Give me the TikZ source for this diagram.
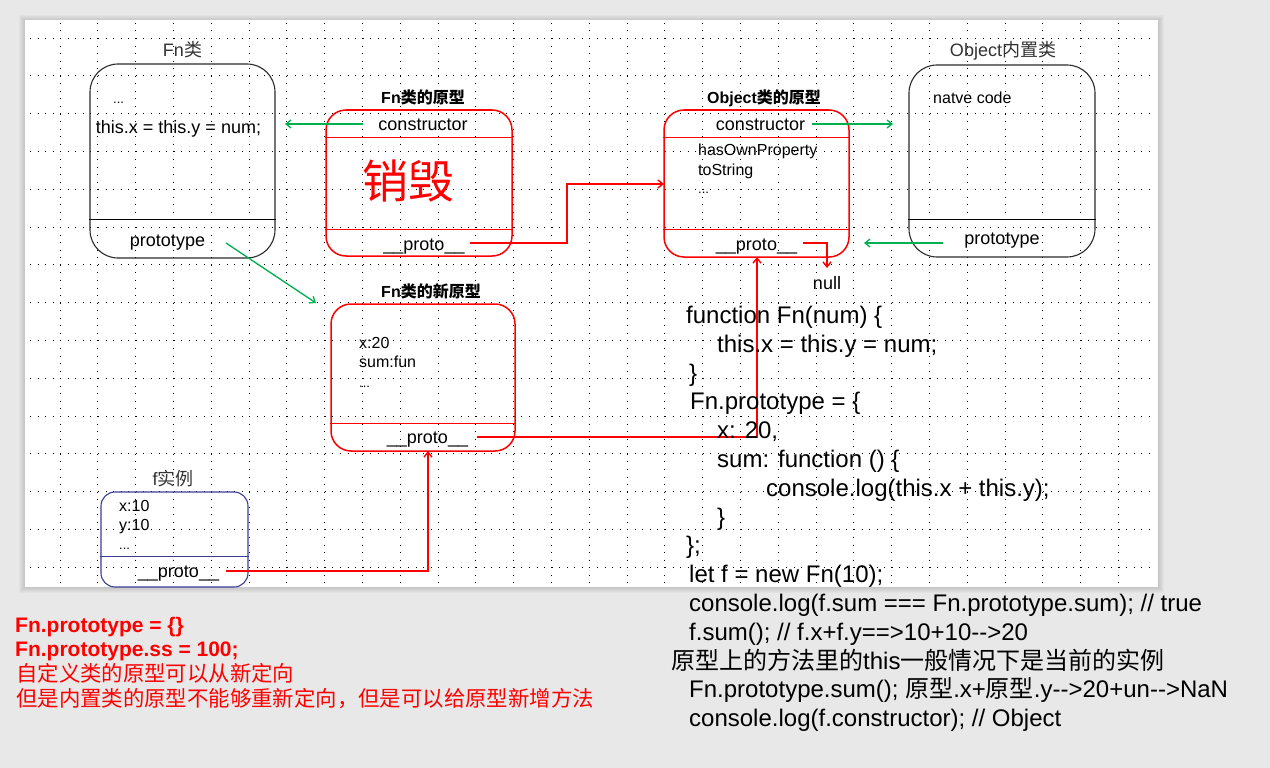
\documentclass[tikz,border=0pt]{standalone}
\usepackage{fontspec}
\setmainfont{Liberation Sans}[Ligatures=TeXOff]
\newfontfamily\cjk{Noto Sans CJK SC}
\usetikzlibrary{arrows.meta}
\definecolor{bggray}{HTML}{E8E8E8}
\definecolor{gline}{HTML}{00B050}
\definecolor{navyline}{HTML}{3C3C96}
\definecolor{darktxt}{HTML}{333333}
\definecolor{boxline}{HTML}{2B2B2B}
\newcommand\zh[1]{{\cjk #1}}
\newcommand\fsz[2]{\fontsize{#1}{#2}\selectfont}
\begin{document}
\begin{tikzpicture}[x=1pt,y=-1pt,
  lbl/.style={inner sep=0pt, anchor=base, font=\fsz{18}{21.6}},
  lblw/.style={inner sep=0pt, anchor=base west, font=\fsz{16}{19.2}},
  dots/.style={inner sep=0pt, anchor=base west, font=\fsz{13}{15}},
  ttl/.style={inner sep=0pt, anchor=base, font=\fsz{18}{21.6}, text=darktxt},
  bttl/.style={inner sep=0pt, anchor=base, font=\fsz{16}{19.2}\bfseries},
  codeline/.style={inner sep=0pt, anchor=base west, font=\fsz{24}{28.8}},
  note/.style={inner sep=0pt, anchor=base west, font=\fsz{21.4}{24.6}, text=red},
  blackbox/.style={draw=boxline, line width=1.1pt, rounded corners=28pt, inner sep=0pt},
  redbox/.style={draw=red, line width=1.5pt, rounded corners=20pt, inner sep=0pt},
  bluebox/.style={draw=navyline, line width=1.1pt, rounded corners=14pt, inner sep=0pt},
  divblack/.style={draw=black, line width=1pt},
  divred/.style={draw=red, line width=1pt},
  divblue/.style={draw=navyline, line width=1pt},
  garrow/.style={draw=gline, line width=1.3pt, -{Straight Barb[length=5pt,width=8pt]}},
  rarrow/.style={draw=red, line width=1.4pt, -{Straight Barb[length=5pt,width=8pt]}},
  griddot/.style={draw=black, line width=0.9pt, dash pattern=on 0.9pt off 6.66pt}
]
\useasboundingbox (0,0) rectangle (1270,768);
% background and canvas
\fill[bggray] (0,0) rectangle (1270,768);
\foreach \k in {1,...,6} \fill[black, opacity=0.025] ({25-\k},{20-\k+1}) rectangle ({1158+\k},{587+\k});
\fill[white] (25,20) rectangle (1158,587);
% dotted grid
\foreach \i in {0,...,28} \draw[griddot] ({60+37.8*\i},22.9) -- ({60+37.8*\i},585);
\foreach \j in {0,...,14} \draw[griddot] (30,{38+37.8*\j}) -- (1152,{38+37.8*\j});

% ---- Fn class box
\node[blackbox, minimum width=185pt, minimum height=194pt] (fnc) at (182.5,161) {};
\node[ttl] (fnct) at (182.5,57) {Fn\zh{类}};
\node[dots] (fncdots) at (113,103) {...};
\node[lbl] (fncbody) at (178.5,133) {this.x = this.y = num;};
\draw[divblack] (fnc.west |- 0,219) -- (fnc.east |- 0,219);
\node[lbl] (fncproto) at (167.5,246) {prototype};

% ---- Fn prototype (destroyed)
\node[redbox, minimum width=186pt, minimum height=146pt] (fnp) at (419,183) {};
\node[bttl] (fnpt) at (423,103) {Fn\zh{类的原型}};
\node[lbl] (fnpcons) at (423,130) {constructor};
\draw[divred] (fnp.west |- 0,137) -- (fnp.east |- 0,137);
\node[inner sep=0pt, anchor=base, font=\fsz{46}{50}, text=red] (destroy) at (408,198) {\zh{销毁}};
\draw[divred] (fnp.west |- 0,229) -- (fnp.east |- 0,229);
\node[lbl] (fnpproto) at (424,250) {\_\_proto\_\_};

% ---- Object prototype
\node[redbox, minimum width=185pt, minimum height=147pt] (objp) at (756.5,183.5) {};
\node[bttl] (objpt) at (764,103) {Object\zh{类的原型}};
\node[lbl] (objpcons) at (760.5,130) {constructor};
\draw[divred] (objp.west |- 0,137) -- (objp.east |- 0,137);
\node[lblw] (objph) at (698,155) {hasOwnProperty};
\node[lblw] (objpts) at (698,175) {toString};
\node[dots] (objpdots) at (698,193) {...};
\draw[divred] (objp.west |- 0,229) -- (objp.east |- 0,229);
\node[lbl] (objpproto) at (756.5,250) {\_\_proto\_\_};
\node[lbl] (null) at (827,289) {null};

% ---- Object built-in class
\node[blackbox, minimum width=186pt, minimum height=192pt] (objc) at (1002,161) {};
\node[ttl] (objct) at (1003,57) {Object\zh{内置类}};
\node[lblw] (objcnat) at (933,103) {natve code};
\draw[divblack] (objc.west |- 0,219) -- (objc.east |- 0,219);
\node[lbl] (objcproto) at (1002,244) {prototype};

% ---- Fn new prototype
\node[redbox, minimum width=184pt, minimum height=147pt] (fnn) at (423,377.5) {};
\node[bttl] (fnnt) at (431,297) {Fn\zh{类的新原型}};
\node[lblw] (fnnx) at (359,348) {x:20};
\node[lblw] (fnnsum) at (359,367) {sum:fun};
\node[dots] (fnndots) at (359,387) {...};
\draw[divred] (fnn.west |- 0,423) -- (fnn.east |- 0,423);
\node[lbl] (fnnproto) at (427.5,443) {\_\_proto\_\_};

% ---- f instance
\node[bluebox, minimum width=147pt, minimum height=95pt] (fi) at (174.5,539.5) {};
\node[ttl] (fit) at (173,485) {f\zh{实例}};
\node[lblw] (fix) at (119,511) {x:10};
\node[lblw] (fiy) at (119,530) {y:10};
\node[dots] (fidots) at (119,549) {...};
\draw[divblue] (fi.west |- 0,556) -- (fi.east |- 0,556);
\node[lbl] (fiproto) at (178.5,577) {\_\_proto\_\_};

% ---- connector coordinates
\coordinate (g1s) at (363,124);
\coordinate (g1e) at (285,124);
\coordinate (g2s) at (226,243);
\coordinate (g2e) at (316,303);
\coordinate (g3s) at (812,124);
\coordinate (g3e) at (893,124);
\coordinate (g4s) at (943,243);
\coordinate (g4e) at (864,243);
\coordinate (r1s) at (470,243);
\coordinate (r1b) at (567,243);
\coordinate (r1e) at (664,184);
\coordinate (r2s) at (803,243);
\coordinate (r2e) at (827,268);
\coordinate (r3s) at (477,437);
\coordinate (r3e) at (757,257);
\coordinate (r4s) at (226,571);
\coordinate (r4e) at (428,451);

% green connectors
\draw[garrow] (g1s) -- (g1e);
\draw[garrow] (g2s) -- (g2e);
\draw[garrow] (g3s) -- (g3e);
\draw[garrow] (g4s) -- (g4e);
% red connectors
\draw[rarrow] (r1s) -- (r1b) |- (r1e);
\draw[rarrow] (r2s) -| (r2e);
\draw[rarrow] (r3s) -| (r3e);
\draw[rarrow] (r4s) -| (r4e);

% ---- code
\node[codeline] (c1) at (686,323) {function Fn(num) \{};
\node[codeline] (c2) at (717,352) {this.x = this.y = num;};
\node[codeline] (c3) at (689,381) {\}};
\node[codeline] (c4) at (690,409) {Fn.prototype = \{};
\node[codeline] (c5) at (717,438) {x: 20,};
\node[codeline] (c6) at (717,467) {sum: function () \{};
\node[codeline] (c7) at (766,496) {console.log(this.x + this.y);};
\node[codeline] (c8) at (717,525) {\}};
\node[codeline] (c9) at (686,553) {\};};
\node[codeline] (c10) at (689,582) {let f = new Fn(10);};
\node[codeline] (c11) at (689,611) {console.log(f.sum === Fn.prototype.sum); // true};
\node[codeline] (c12) at (689,640) {f.sum(); // f.x+f.y==>10+10-->20};
\node[codeline] (c13) at (671,669) {\zh{原型上的方法里的}this\zh{一般情况下是当前的实例}};
\node[codeline] (c14) at (689,697) {Fn.prototype.sum(); \zh{原型}.x+\zh{原型}.y-->20+un-->NaN};
\node[codeline] (c15) at (689,726) {console.log(f.constructor); // Object};

% ---- notes
\node[note, font=\fsz{21}{24}\bfseries] (n1) at (15,632) {Fn.prototype = \{\}};
\node[note, font=\fsz{21}{24}\bfseries] (n2) at (15,656) {Fn.prototype.ss = 100;};
\node[note] (n3) at (16,681) {\zh{自定义类的原型可以从新定向}};
\node[note] (n4) at (16,706) {\zh{但是内置类的原型不能够重新定向，但是可以给原型新增方法}};
\end{tikzpicture}
\end{document}
